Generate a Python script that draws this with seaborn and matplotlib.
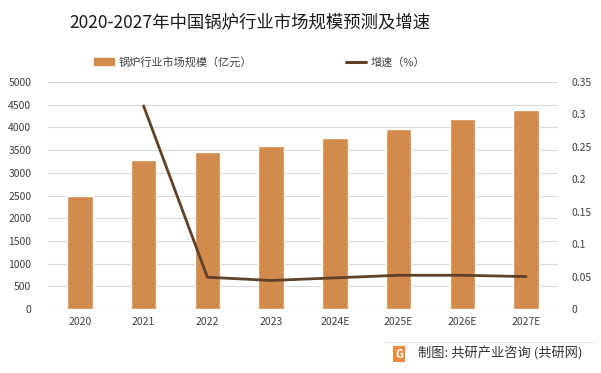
import numpy as np
import pandas as pd
import matplotlib
matplotlib.use("Agg")
import matplotlib.pyplot as plt
import matplotlib.patches as mpatches
from matplotlib.lines import Line2D
import seaborn as sns

sns.set_theme(style="white")
plt.rcParams['font.family'] = ['Noto Sans CJK SC', 'DejaVu Sans']

years = ['2020', '2021', '2022', '2023', '2024E', '2025E', '2026E', '2027E']
scale = [2500, 3290, 3450, 3600, 3770, 3970, 4190, 4390]   # 亿元
growth_years = years[1:]
growth = [0.313, 0.049, 0.044, 0.048, 0.052, 0.052, 0.050]

bar_color = '#D28B4D'
line_color = '#5E4128'

df = pd.DataFrame({'year': years, 'scale': scale})

fig = plt.figure(figsize=(6.01, 3.73), dpi=100)
ax = fig.add_axes([48/601, 1-309/373, 510/601, 227/373])

sns.barplot(data=df, x='year', y='scale', color=bar_color, width=0.4,
            saturation=1, ax=ax)
ax.set_ylim(0, 5000)
ax.set_yticks(np.arange(0, 5001, 500))
ax.set_xlim(-0.5, len(years) - 0.5)
ax.yaxis.grid(True, color='#D9D9D9', linewidth=0.8)
ax.set_axisbelow(True)
ax.set_xlabel('')
ax.set_ylabel('')
for s in ax.spines.values():
    s.set_visible(False)
ax.tick_params(axis='both', length=0, labelsize=7.5, colors='#404040')
ax.tick_params(axis='x', pad=6)
ax.tick_params(axis='y', pad=12)

ax2 = ax.twinx()
gpos = [years.index(y) for y in growth_years]
sns.lineplot(x=gpos, y=growth, color=line_color, linewidth=2.0, ax=ax2)
ax2.set_ylim(0, 0.35)
ax2.set_yticks(np.arange(0, 0.351, 0.05))
ax2.set_yticklabels(['0', '0.05', '0.1', '0.15', '0.2', '0.25', '0.3', '0.35'])
ax2.set_xlim(-0.5, len(years) - 0.5)
for s in ax2.spines.values():
    s.set_visible(False)
ax2.tick_params(axis='y', length=0, labelsize=7.5, colors='#404040', pad=10)
ax2.set_ylabel('')

fig.text(250/601, 1-23/373, '2020-2027年中国锅炉行业市场规模预测及增速',
         ha='center', va='center', fontsize=12.5, color='#1a1a1a')

handles = [mpatches.Patch(color=bar_color, label='锅炉行业市场规模（亿元）'),
           Line2D([0], [0], color=line_color, linewidth=2.2, label='增速（%）')]
fig.legend(handles=handles, ncol=2, loc='center left',
           bbox_to_anchor=(84/601, 1-62/373), frameon=False,
           fontsize=8, handlelength=1.8, handleheight=0.5,
           columnspacing=8.5, handletextpad=0.4, labelcolor='#404040')

# footer
fig.add_artist(Line2D([385/601, 595/601], [1-342/373, 1-342/373],
                      color='#E5E5E5', linewidth=0.8))
fig.text(399/601, 1-354/373, 'G', ha='center', va='center', fontsize=8,
         color='white', fontweight='bold',
         bbox=dict(boxstyle='square,pad=0.15', fc='#F08A3C', ec='none'))
fig.text(418/601, 1-354/373, '制图: 共研产业咨询 (共研网)', ha='left',
         va='center', fontsize=9.5, color='#333333')

fig.savefig('out.png', dpi=100)
